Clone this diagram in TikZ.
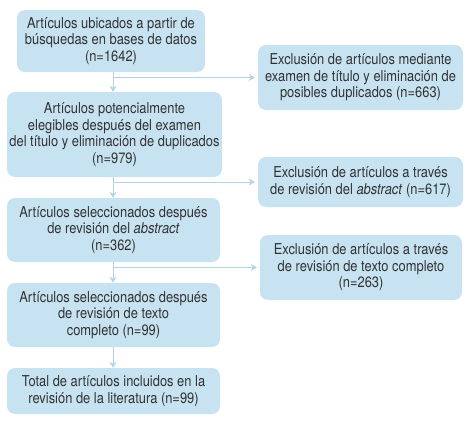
\documentclass[tikz,border=0pt]{standalone}
\usepackage{fontspec}
\setmainfont[FakeStretch=0.86]{TeX Gyre Heros}
\usetikzlibrary{arrows.meta}
\definecolor{boxblue}{RGB}{199,227,242}
\definecolor{lineblue}{RGB}{176,212,230}
\definecolor{textgray}{RGB}{50,50,50}

\begin{document}
\begin{tikzpicture}[x=1pt,y=-1pt, >={Stealth[length=6pt,width=7pt]},
        box/.style={fill=boxblue, rounded corners=8pt, align=center, inner sep=0pt,
                    text=textgray, font=\fontsize{15}{16.5}\selectfont},
        link/.style={->, draw=lineblue, line width=0.8pt}]
                \useasboundingbox (0,0) rectangle (469,424);
                % main column
                \node[box, minimum width=188, minimum height=62] (found) at (111,41)
                    {Artículos ubicados a partir de\\búsquedas en bases de datos\\(n=1642)};
                \node[box, minimum width=215, minimum height=85] (eligible) at (114.5,134.5)
                    {Artículos potencialmente\\elegibles después del examen\\del título y eliminación de duplicados\\(n=979)};
                \node[box, minimum width=213, minimum height=64] (abstr) at (113.5,230)
                    {Artículos seleccionados después\\de revisión del \textit{abstract}\\(n=362)};
                \node[box, minimum width=213, minimum height=64] (fulltext) at (113.5,315)
                    {Artículos seleccionados después\\de revisión de texto\\completo (n=99)};
                \node[box, minimum width=213, minimum height=46] (total) at (113.5,391)
                    {Total de artículos incluidos en la\\revisión de la literatura (n=99)};
                % exclusions
                \node[box, minimum width=205, minimum height=65] (excl1) at (360.5,77.5)
                    {Exclusión de artículos mediante\\examen de título y eliminación de\\posibles duplicados (n=663)};
                \node[box, minimum width=205, minimum height=50] (excl2) at (360.5,182)
                    {Exclusión de artículos a través\\de revisión del \textit{abstract} (n=617)};
                \node[box, minimum width=202, minimum height=65] (excl3) at (361,267.5)
                    {Exclusión de artículos a través\\de revisión de texto completo\\(n=263)};
                % arrows
                \coordinate (split) at (113,0);
                \draw[link] (split |- found.south) -- (split |- eligible.north);
                \draw[link] (split |- eligible.south) -- (split |- abstr.north);
                \draw[link] (split |- abstr.south) -- (split |- fulltext.north);
                \draw[link] (split |- fulltext.south) -- (split |- total.north);
                \draw[link] (split |- excl1.west) -- ([xshift=-3]excl1.west);
                \draw[link] (split |- excl2.west) -- ([xshift=-3]excl2.west);
                \draw[link] (split |- excl3.west) -- ([xshift=-3]excl3.west);
            \end{tikzpicture}
\end{document}
